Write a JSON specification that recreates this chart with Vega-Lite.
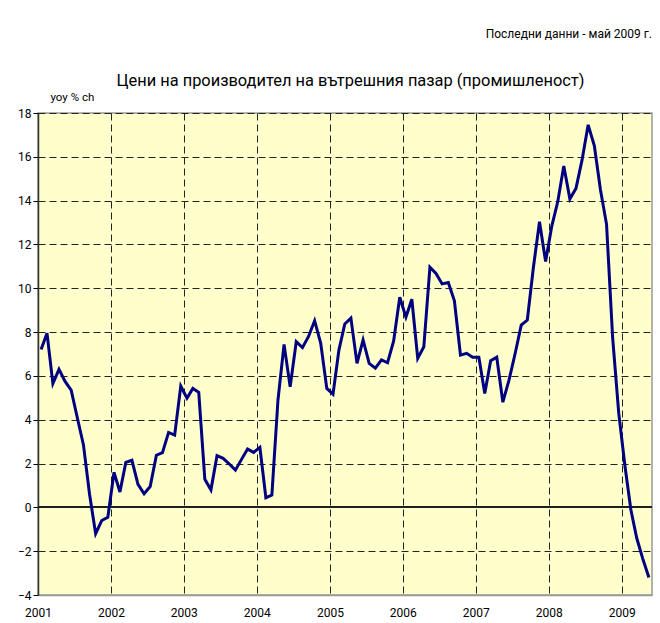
{
  "$schema": "https://vega.github.io/schema/vega-lite/v6.json",
  "width": 614,
  "height": 482,
  "autosize": {"type": "none"},
  "padding": {"left": 38, "top": 113, "right": 8, "bottom": 28},
  "background": "white",
  "title": {
    "text": "Последни данни - май 2009 г.",
    "anchor": "end",
    "frame": "group",
    "fontSize": 12,
    "fontWeight": "normal",
    "font": "Roboto",
    "color": "black",
    "offset": 31
  },
  "config": {
    "view": {"fill": "#FFFFCC", "stroke": "#999999", "strokeWidth": 1.5},
    "font": "Roboto"
  },
  "data": {
    "values": [
      {"date": "2001-01", "v": 7.2}, {"date": "2001-02", "v": 7.95}, {"date": "2001-03", "v": 5.65}, {"date": "2001-04", "v": 6.3},
      {"date": "2001-05", "v": 5.75}, {"date": "2001-06", "v": 5.35}, {"date": "2001-07", "v": 4.1}, {"date": "2001-08", "v": 2.85},
      {"date": "2001-09", "v": 0.6}, {"date": "2001-10", "v": -1.2}, {"date": "2001-11", "v": -0.6}, {"date": "2001-12", "v": -0.45},
      {"date": "2002-01", "v": 1.6}, {"date": "2002-02", "v": 0.7}, {"date": "2002-03", "v": 2.05}, {"date": "2002-04", "v": 2.15},
      {"date": "2002-05", "v": 1.05}, {"date": "2002-06", "v": 0.62}, {"date": "2002-07", "v": 0.95}, {"date": "2002-08", "v": 2.38},
      {"date": "2002-09", "v": 2.5}, {"date": "2002-10", "v": 3.42}, {"date": "2002-11", "v": 3.3}, {"date": "2002-12", "v": 5.54},
      {"date": "2003-01", "v": 4.98}, {"date": "2003-02", "v": 5.43}, {"date": "2003-03", "v": 5.25}, {"date": "2003-04", "v": 1.28},
      {"date": "2003-05", "v": 0.8}, {"date": "2003-06", "v": 2.36}, {"date": "2003-07", "v": 2.24}, {"date": "2003-08", "v": 1.98},
      {"date": "2003-09", "v": 1.7}, {"date": "2003-10", "v": 2.19}, {"date": "2003-11", "v": 2.66}, {"date": "2003-12", "v": 2.51},
      {"date": "2004-01", "v": 2.74}, {"date": "2004-02", "v": 0.44}, {"date": "2004-03", "v": 0.56}, {"date": "2004-04", "v": 4.9},
      {"date": "2004-05", "v": 7.44}, {"date": "2004-06", "v": 5.5}, {"date": "2004-07", "v": 7.56}, {"date": "2004-08", "v": 7.29},
      {"date": "2004-09", "v": 7.8}, {"date": "2004-10", "v": 8.52}, {"date": "2004-11", "v": 7.49}, {"date": "2004-12", "v": 5.43},
      {"date": "2005-01", "v": 5.17}, {"date": "2005-02", "v": 7.18}, {"date": "2005-03", "v": 8.37}, {"date": "2005-04", "v": 8.64},
      {"date": "2005-05", "v": 6.57}, {"date": "2005-06", "v": 7.64}, {"date": "2005-07", "v": 6.57}, {"date": "2005-08", "v": 6.35},
      {"date": "2005-09", "v": 6.73}, {"date": "2005-10", "v": 6.6}, {"date": "2005-11", "v": 7.6}, {"date": "2005-12", "v": 9.59},
      {"date": "2006-01", "v": 8.68}, {"date": "2006-02", "v": 9.5}, {"date": "2006-03", "v": 6.8}, {"date": "2006-04", "v": 7.33},
      {"date": "2006-05", "v": 10.96}, {"date": "2006-06", "v": 10.68}, {"date": "2006-07", "v": 10.2}, {"date": "2006-08", "v": 10.26},
      {"date": "2006-09", "v": 9.43}, {"date": "2006-10", "v": 6.95}, {"date": "2006-11", "v": 7.03}, {"date": "2006-12", "v": 6.85},
      {"date": "2007-01", "v": 6.85}, {"date": "2007-02", "v": 5.2}, {"date": "2007-03", "v": 6.69}, {"date": "2007-04", "v": 6.85},
      {"date": "2007-05", "v": 4.8}, {"date": "2007-06", "v": 5.8}, {"date": "2007-07", "v": 7.0}, {"date": "2007-08", "v": 8.32},
      {"date": "2007-09", "v": 8.55}, {"date": "2007-10", "v": 10.96}, {"date": "2007-11", "v": 13.04}, {"date": "2007-12", "v": 11.22},
      {"date": "2008-01", "v": 12.84}, {"date": "2008-02", "v": 13.96}, {"date": "2008-03", "v": 15.58}, {"date": "2008-04", "v": 14.08},
      {"date": "2008-05", "v": 14.56}, {"date": "2008-06", "v": 15.86}, {"date": "2008-07", "v": 17.46}, {"date": "2008-08", "v": 16.5},
      {"date": "2008-09", "v": 14.5}, {"date": "2008-10", "v": 12.92}, {"date": "2008-11", "v": 7.75}, {"date": "2008-12", "v": 4.3},
      {"date": "2009-01", "v": 1.9}, {"date": "2009-02", "v": -0.1}, {"date": "2009-03", "v": -1.4}, {"date": "2009-04", "v": -2.35},
      {"date": "2009-05", "v": -3.2}
    ]
  },
  "layer": [
    {
      "mark": {"type": "rule", "color": "#222222", "strokeWidth": 1},
      "encoding": {
        "y": {
          "datum": 0,
          "type": "quantitative",
          "scale": {"domain": [-4, 18], "nice": false, "zero": false},
          "axis": {
            "orient": "right",
            "domain": false,
            "ticks": false,
            "labels": false,
            "grid": false,
            "title": "yoy % ch",
            "titleAngle": 0,
            "titleAlign": "left",
            "titleBaseline": "middle",
            "titleX": -602,
            "titleY": -16,
            "titleFontSize": 11.5,
            "titleFontWeight": "normal",
            "titleColor": "black"
          }
        }
      }
    },
    {
      "mark": {"type": "line", "color": "#000080", "strokeWidth": 3, "strokeJoin": "miter"},
      "encoding": {
        "x": {
          "field": "date",
          "timeUnit": "utcyearmonth",
          "type": "temporal",
          "bandPosition": 0.5,
          "scale": {
            "domain": [
              {"year": 2001, "month": 1, "date": 1, "utc": true},
              {"year": 2009, "month": 6, "date": 1, "utc": true}
            ]
          },
          "axis": {
            "title": null,
            "format": "%Y",
            "tickCount": {"interval": "year", "step": 1},
            "labelFontSize": 12,
            "labelColor": "black",
            "labelPadding": 12,
            "labelFlush": false,
            "ticks": false,
            "domainColor": "#999999",
            "domainWidth": 1.5,
            "grid": true,
            "gridColor": "#222222",
            "gridDash": [7, 4],
            "gridWidth": 1,
            "gridOpacity": 1
          }
        },
        "y": {
          "field": "v",
          "type": "quantitative",
          "scale": {"domain": [-4, 18], "nice": false, "zero": false},
          "axis": {
            "values": [-4, -2, 0, 2, 4, 6, 8, 10, 12, 14, 16, 18],
            "title": "Цени на производител на вътрешния пазар (промишленост)",
            "titleAngle": 0,
            "titleAlign": "center",
            "titleBaseline": "middle",
            "titleX": 312,
            "titleY": -33,
            "titleFontSize": 16.4,
            "titleFontWeight": "normal",
            "titleColor": "black",
            "labelFontSize": 12,
            "labelColor": "black",
            "labelPadding": 2,
            "tickSize": 5,
            "tickColor": "black",
            "domainColor": "#333333",
            "domainWidth": 1.5,
            "grid": true,
            "gridColor": "#222222",
            "gridDash": [7, 4],
            "gridWidth": 1,
            "gridOpacity": 1
          }
        }
      }
    }
  ],
  "resolve": {"axis": {"y": "independent"}}
}
